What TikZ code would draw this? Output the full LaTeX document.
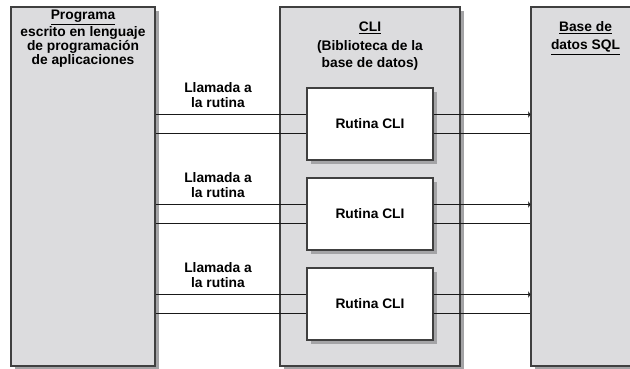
\documentclass[tikz,border=0pt]{standalone}
\usepackage{fontspec}
\setmainfont{Liberation Sans}
\usetikzlibrary{arrows.meta,shadows}
\definecolor{boxgray}{HTML}{DCDCDE}
\definecolor{shadowgray}{HTML}{A4A4A6}
\tikzstyle{arrow} = [-{Latex[length=2pt,width=7pt]}]
\tikzstyle{wire} = [line width=1.6pt,black!90]
\tikzstyle{box} = [draw=black!75,line width=1.1pt,inner sep=0pt,
  drop shadow={shadow xshift=4pt,shadow yshift=-4pt,fill=shadowgray,opacity=1}]
\tikzstyle{label} = [font=\bfseries\fontsize{13.8}{14}\selectfont,align=center,inner sep=0pt]

\begin{document}
\begin{tikzpicture}[x=1pt,y=-1pt]
        \useasboundingbox (0,0) rectangle (630,368);
        \clip (0,0) rectangle (630,368);
        % the three big blocks
        \node[box, fill=boxgray, minimum width=144pt, minimum height=359pt] at (83,186.5) (prog) {};
        \node[box, fill=boxgray, minimum width=180pt, minimum height=359pt] at (370,186.5) (cli) {};
        \node[box, fill=boxgray, minimum width=109pt, minimum height=359pt] at (585.5,186.5) (sql) {};

        \node[label] at (83,39) (progtxt) {\underline{Programa}\\[0.5pt]escrito en lenguaje\\[0.5pt]de programación\\de aplicaciones};
        \node[label, font=\bfseries\fontsize{13.8}{16.5}\selectfont] at (370,46) (clitxt) {\underline{CLI}\\[3pt](Biblioteca de la\\base de datos)};
        \node[label, font=\bfseries\fontsize{13.8}{18.5}\selectfont] at (585.5,38) (sqltxt) {\underline{Base de}\\\underline{datos SQL}};

        % one call per routine
        \foreach \i/\y in {1/124, 2/214, 3/304} {
          \node[box, fill=white, minimum width=126pt, minimum height=72pt, label] at (370,\y) (rut\i) {Rutina CLI};
          \node[label, font=\bfseries\fontsize{13.8}{15}\selectfont] at (218,\y-29) (call\i) {Llamada a\\la rutina};
          \draw[wire] ([yshift=9.5pt]rut\i.west) -- ([yshift=9.5pt]rut\i.west -| prog.east);
          \draw[wire] ([yshift=-9.5pt]rut\i.west) -- ([yshift=-9.5pt]rut\i.west -| prog.east);
          \draw[wire, arrow] ([yshift=9.5pt]rut\i.east) -- ([yshift=9.5pt]rut\i.east -| sql.west);
          \draw[wire] ([yshift=-9.5pt]rut\i.east) -- ([yshift=-9.5pt]rut\i.east -| sql.west);
        }

      \end{tikzpicture}
\end{document}
